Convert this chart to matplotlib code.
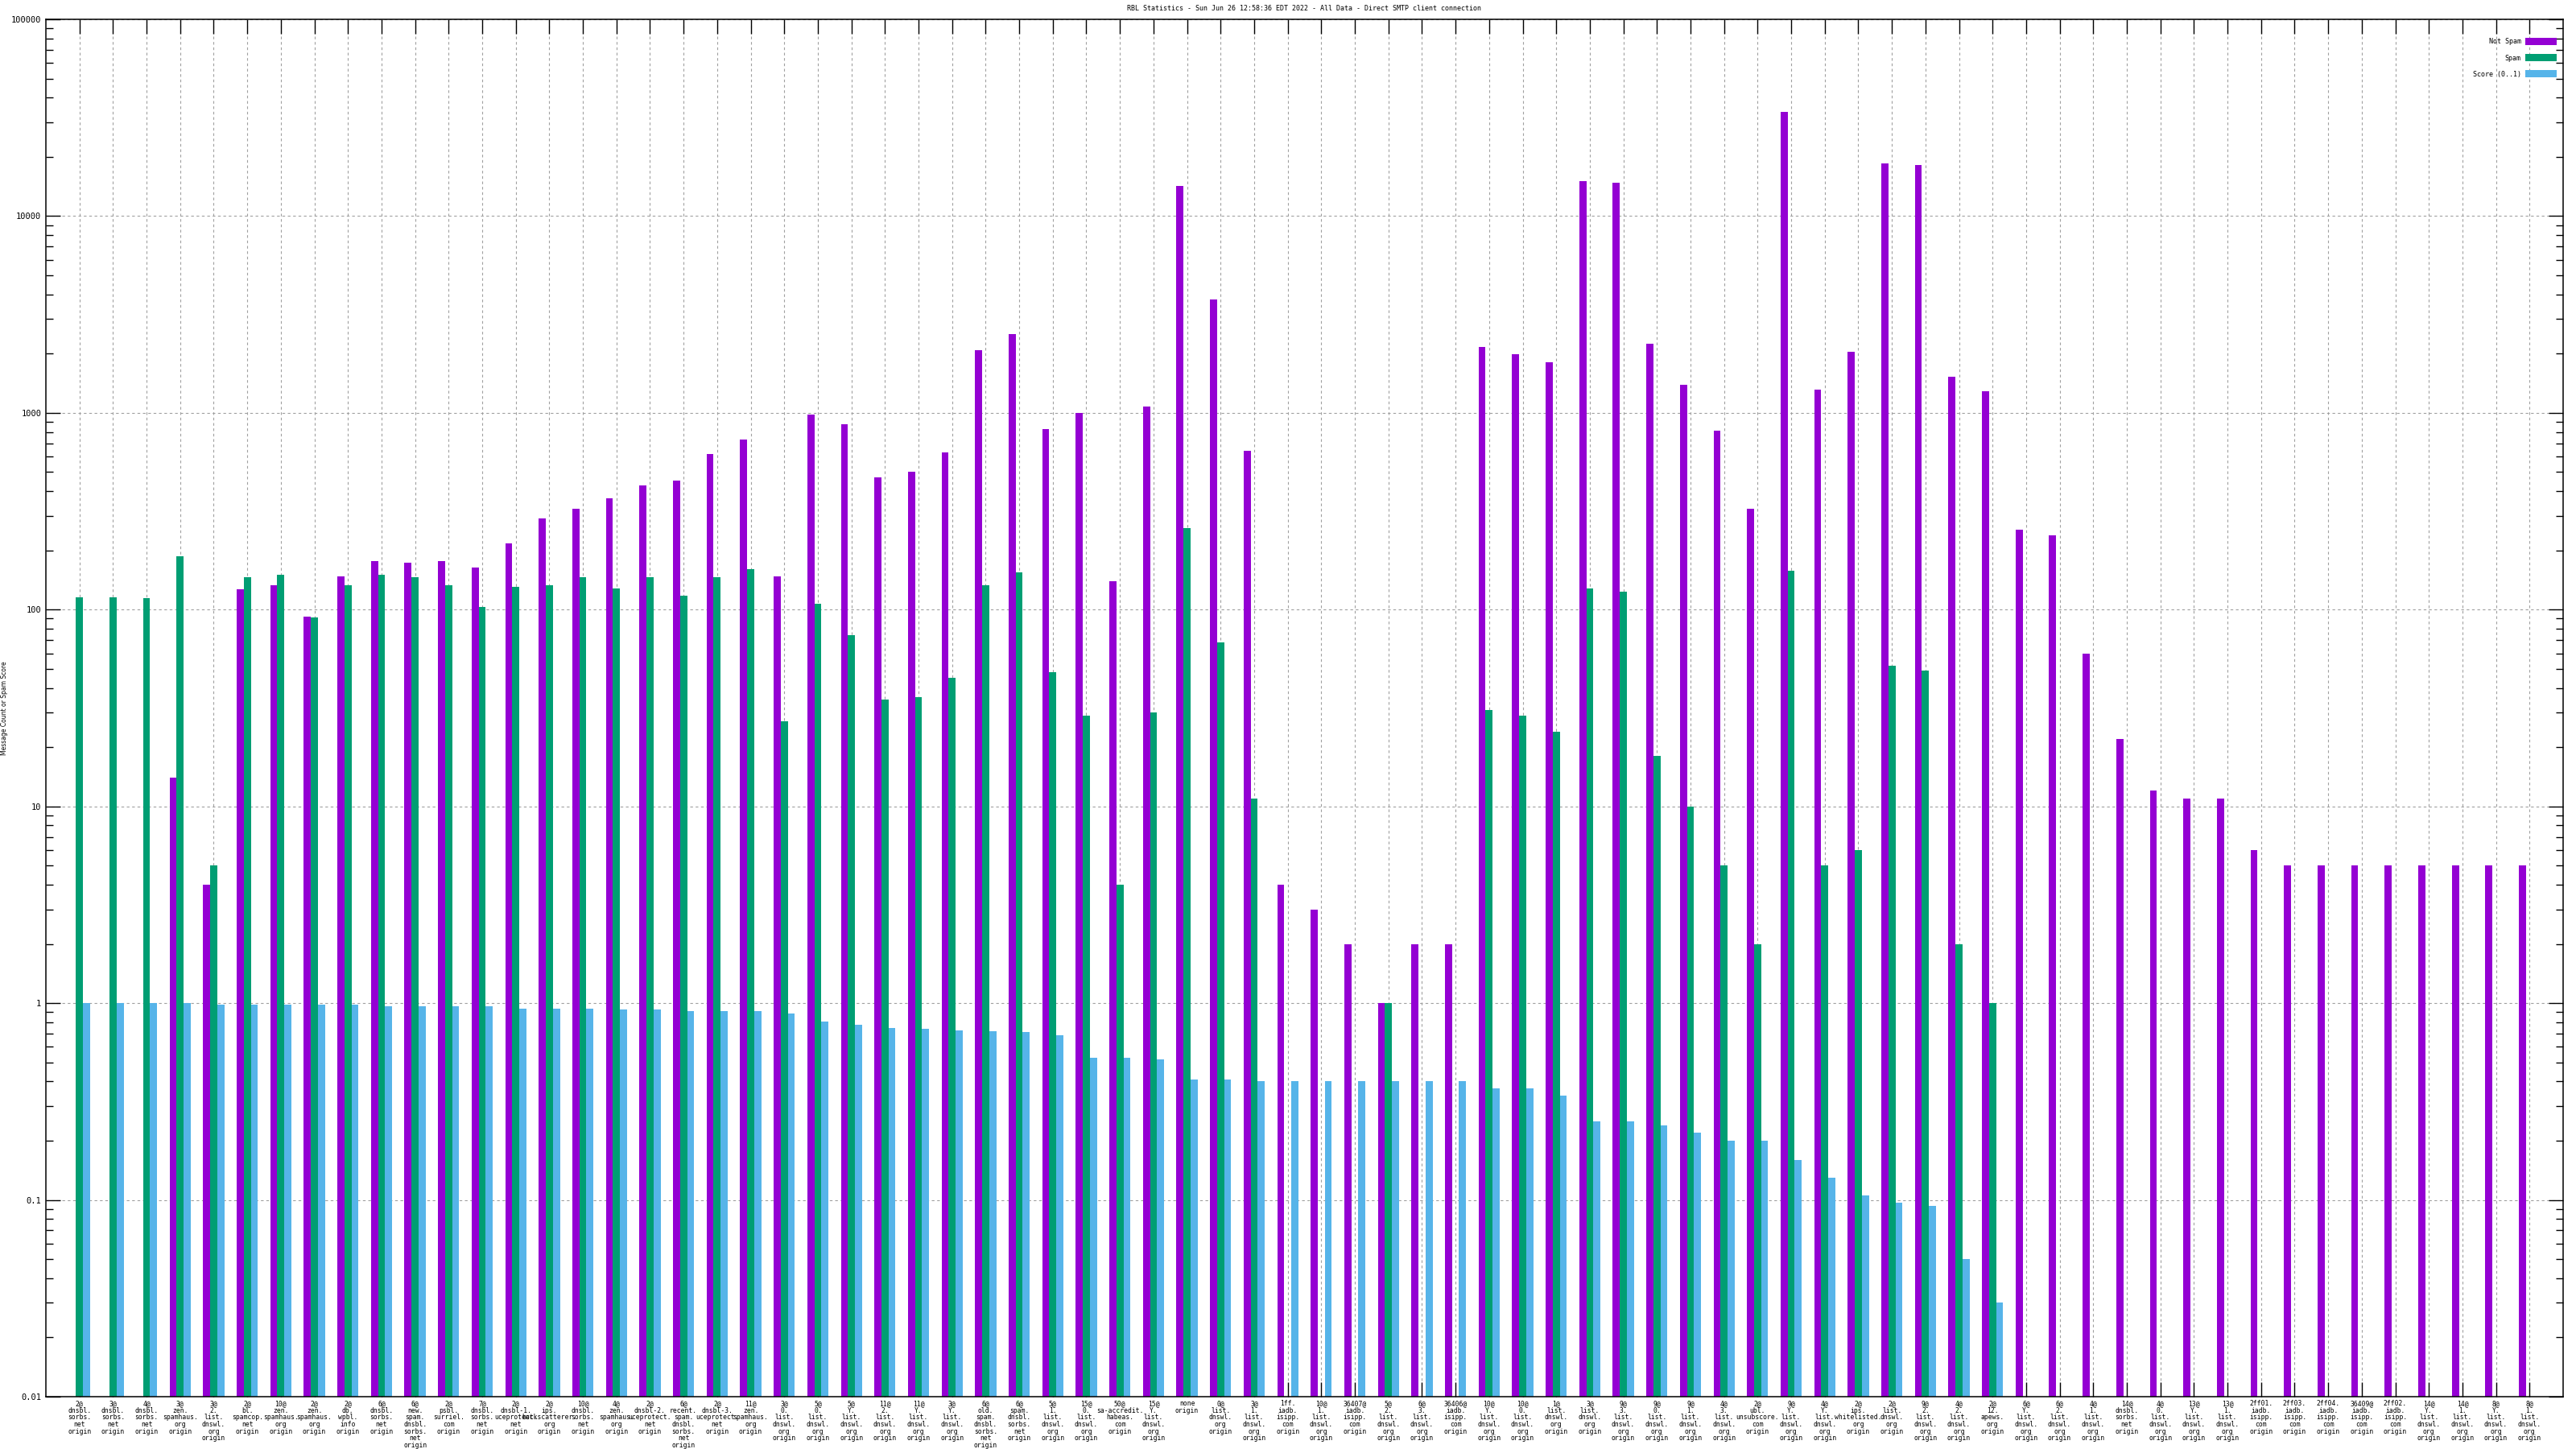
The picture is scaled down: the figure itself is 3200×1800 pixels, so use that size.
import numpy as np
import matplotlib
matplotlib.use("Agg")
import matplotlib.pyplot as plt
from matplotlib.ticker import FixedLocator, LogLocator, NullFormatter

nan = np.nan

labels = [
    "2@dnsbl.sorbs.net origin", "3@dnsbl.sorbs.net origin", "4@dnsbl.sorbs.net origin",
    "3@zen.spamhaus.org origin", "3@2.list.dnswl.org origin", "2@bl.spamcop.net origin",
    "10@zen.spamhaus.org origin", "2@zen.spamhaus.org origin", "2@db.wpbl.info origin",
    "6@dnsbl.sorbs.net origin", "6@new.spam.dnsbl.sorbs.net origin", "2@psbl.surriel.com origin",
    "7@dnsbl.sorbs.net origin", "2@dnsbl-1.uceprotect.net origin", "2@ips.backscatterer.org origin",
    "10@dnsbl.sorbs.net origin", "4@zen.spamhaus.org origin", "2@dnsbl-2.uceprotect.net origin",
    "6@recent.spam.dnsbl.sorbs.net origin", "2@dnsbl-3.uceprotect.net origin", "11@zen.spamhaus.org origin",
    "3@0.list.dnswl.org origin", "5@0.list.dnswl.org origin", "5@Y.list.dnswl.org origin",
    "11@2.list.dnswl.org origin", "11@Y.list.dnswl.org origin", "3@Y.list.dnswl.org origin",
    "6@old.spam.dnsbl.sorbs.net origin", "6@spam.dnsbl.sorbs.net origin", "5@1.list.dnswl.org origin",
    "15@0.list.dnswl.org origin", "50@sa-accredit.habeas.com origin", "15@Y.list.dnswl.org origin",
    "none origin", "0@list.dnswl.org origin", "3@1.list.dnswl.org origin",
    "1ff.iadb.isipp.com origin", "10@1.list.dnswl.org origin", "36407@iadb.isipp.com origin",
    "5@2.list.dnswl.org origin", "6@3.list.dnswl.org origin", "36406@iadb.isipp.com origin",
    "10@Y.list.dnswl.org origin", "10@0.list.dnswl.org origin", "1@list.dnswl.org origin",
    "3@list.dnswl.org origin", "9@3.list.dnswl.org origin", "9@0.list.dnswl.org origin",
    "9@1.list.dnswl.org origin", "4@3.list.dnswl.org origin", "2@ubl.unsubscore.com origin",
    "9@Y.list.dnswl.org origin", "4@Y.list.dnswl.org origin", "2@ips.whitelisted.org origin",
    "2@list.dnswl.org origin", "9@2.list.dnswl.org origin", "4@2.list.dnswl.org origin",
    "2@12.apews.org origin", "6@Y.list.dnswl.org origin", "6@2.list.dnswl.org origin",
    "4@1.list.dnswl.org origin", "14@dnsbl.sorbs.net origin", "4@0.list.dnswl.org origin",
    "13@Y.list.dnswl.org origin", "13@1.list.dnswl.org origin", "2ff01.iadb.isipp.com origin",
    "2ff03.iadb.isipp.com origin", "2ff04.iadb.isipp.com origin", "36409@iadb.isipp.com origin",
    "2ff02.iadb.isipp.com origin", "14@Y.list.dnswl.org origin", "14@1.list.dnswl.org origin",
    "8@Y.list.dnswl.org origin", "8@1.list.dnswl.org origin",
]

not_spam = [nan, nan, nan, 14, 4, 127, 133, 92, 148, 177, 173, 177, 164, 218, 291, 327, 367,
            427, 453, 617, 734, 148, 980, 873, 471, 500, 630, 2074, 2515, 824, 1000, 140, 1075,
            14200, 3765, 641, 4, 3, 2, 1, 2, 2, 2154, 1994, 1812, 15000, 14800, 2240, 1384, 808,
            327, 33700, 1307, 2034, 18600, 18200, 1524, 1282, 255, 239, 60, 22, 12, 11, 11, 6,
            5, 5, 5, 5, 5, 5, 5, 5]

spam = [116, 116, 114, 187, 5, 146, 150, 91, 133, 150, 146, 133, 103, 130, 133, 146, 128, 146,
        118, 146, 161, 27, 107, 74, 35, 36, 45, 133, 155, 48, 29, 4, 30, 259, 68, 11,
        nan, nan, nan, 1, nan, nan,
        31, 29, 24, 128, 123, 18, 10, 5, 2, 157, 5, 6, 52, 49, 2, 1] + [nan] * 16

score = [1, 1, 1, 1, 0.98, 0.98, 0.98, 0.98, 0.98, 0.96, 0.96, 0.96, 0.96, 0.94, 0.94, 0.94,
         0.93, 0.93, 0.91, 0.91, 0.91, 0.89, 0.81, 0.78, 0.75, 0.74, 0.73, 0.72, 0.71, 0.69,
         0.53, 0.53, 0.52, 0.41, 0.41, 0.40, 0.40, 0.40, 0.40, 0.40, 0.40, 0.40, 0.37, 0.37,
         0.34, 0.25, 0.25, 0.24, 0.22, 0.20, 0.20, 0.16, 0.13, 0.105, 0.097, 0.093, 0.05,
         0.03] + [nan] * 16

series_names = ["Not Spam", "Spam", "Score (0..1)"]
colors = ["#9400d3", "#009e73", "#56b4e9"]
title = "RBL Statistics - Sun Jun 26 12:58:36 EDT 2022 - All Data - Direct SMTP client connection"
ylabel = "Message Count or Spam Score"
yticks = [0.01, 0.1, 1, 10, 100, 1000, 10000, 100000]
ytick_labels = ["0.01", "0.1", "1", "10", "100", "1000", "10000", "100000"]

W, H = 3200, 1800
fig = plt.figure(figsize=(W / 100, H / 100), dpi=100)
L, R, T, B = 57, 3184, 24, 1735
ax = fig.add_axes([L / W, 1 - B / H, (R - L) / W, (B - T) / H])

n = len(labels)
x = np.arange(n)
w = 0.21
mono = "DejaVu Sans Mono"

handles = []
for k, (vals, c, nm) in enumerate(zip([not_spam, spam, score], colors, series_names)):
    v = np.array(vals, dtype=float)
    h = ax.bar(x + (k - 1) * w, v, width=w, color=c, label=nm, linewidth=0, zorder=2)
    handles.append(h)

ax.set_yscale("log")
ax.set_ylim(0.01, 100000)
ax.set_xlim(-1, n)

ax.set_yticks(yticks)
ax.set_yticklabels(ytick_labels, fontfamily=mono, fontsize=7.5)
ax.yaxis.set_minor_locator(LogLocator(base=10, subs=np.arange(2, 10)))
ax.yaxis.set_minor_formatter(NullFormatter())

ax.set_xticks(x)
ax.set_xticklabels([s.replace("@", "@\n").replace(".", ".\n").replace(" ", "\n") for s in labels],
                   fontfamily=mono, fontsize=5.8, linespacing=0.95, va="top")

ax.tick_params(axis="both", which="major", direction="in", length=13, width=1.0,
               top=True, right=True, color="black")
ax.tick_params(axis="y", which="minor", direction="in", length=6.5, width=1.0, right=True)
ax.tick_params(axis="x", which="major", pad=3)
ax.tick_params(axis="y", which="major", pad=4)

ax.set_axisbelow(True)
ax.grid(True, axis="x", which="major", color="#a0a0a0", linestyle=(0, (3, 3)), linewidth=0.8)
ax.grid(True, axis="y", which="major", color="#a0a0a0", linestyle=(0, (3, 3)), linewidth=0.8)

for sp in ax.spines.values():
    sp.set_linewidth(1.1)

ax.set_ylabel(ylabel, fontsize=5.5, fontfamily="DejaVu Sans Condensed" if False else "DejaVu Sans")
ax.yaxis.set_label_coords(-(L - 10) / (R - L), 0.5)

ax.text(0.5, 1 + (T - 11) / (B - T), title, transform=ax.transAxes, ha="center", va="center",
        fontfamily=mono, fontsize=6)

leg = ax.legend(handles=handles, loc="upper right",
                bbox_to_anchor=((3176 - L) / (R - L), (B - 47) / (B - T)),
                frameon=False, markerfirst=False, prop={"family": mono, "size": 6},
                handlelength=4.7, handleheight=1.3, labelspacing=1.3, handletextpad=0.6,
                borderpad=0, borderaxespad=0)

fig.savefig("out.png", dpi=100)
